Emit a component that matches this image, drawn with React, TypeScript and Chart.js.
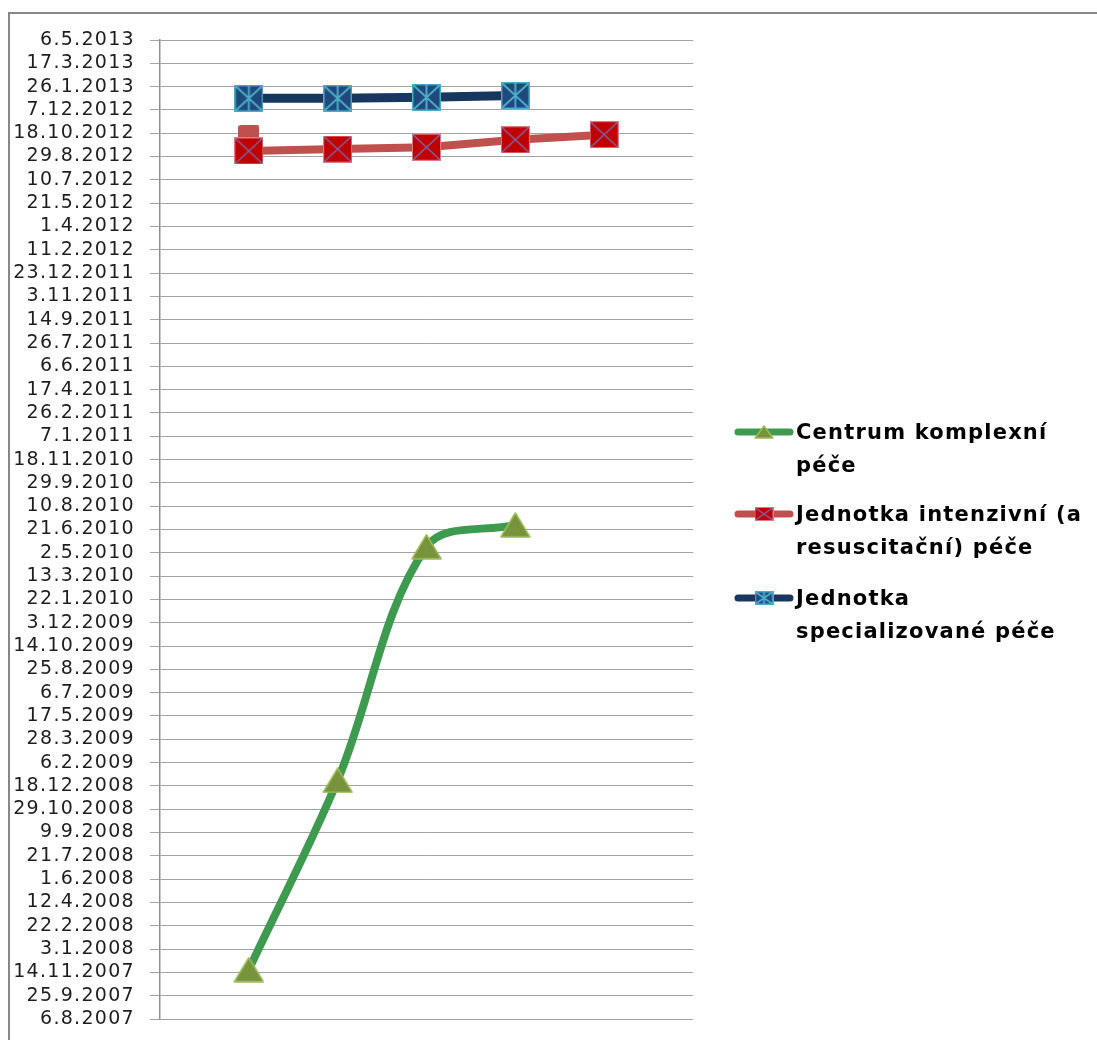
import { useEffect, useRef } from "react";
import { Chart, registerables } from "chart.js";

Chart.register(...registerables);

// Category slots along the horizontal axis (the outer two stay empty)
const categories = ["", "1", "2", "3", "4", "5", ""];

// Dates (d.m.yyyy) reached by each unit, per category
const centrumDates = [null, "20.11.2007", "30.12.2008", "15.5.2010", "1.7.2010", null, null];
const intenzivniDates = [null, "10.9.2012", "14.9.2012", "18.9.2012", "4.10.2012", "15.10.2012", null];
const specializovaneDates = [null, "1.1.2013", "1.1.2013", "3.1.2013", "7.1.2013", null, null];
const extraMarkerDates = [null, "14.10.2012", null, null, null, null, null];

// Legend text, already split into its two lines
const centrumLabel = ["Centrum komplexní", "péče"];
const intenzivniLabel = ["Jednotka intenzivní (a", "resuscitační) péče"];
const specializovaneLabel = ["Jednotka", "specializované péče"];

// Date axis range and step (days)
const yAxisFirst = "6.8.2007";
const yAxisLast = "6.5.2013";
const yAxisStepDays = 50;

const EPOCH = Date.UTC(1899, 11, 30);
const DAY = 86400000;

function toSerial(s: string | null): number | null {
  if (!s) return null;
  const [d, m, y] = s.split(".").map(Number);
  return Math.round((Date.UTC(y, m - 1, d) - EPOCH) / DAY);
}

function fromSerial(n: number): string {
  const dt = new Date(EPOCH + n * DAY);
  return `${dt.getUTCDate()}.${dt.getUTCMonth() + 1}.${dt.getUTCFullYear()}`;
}

type MarkerKind = "triangle" | "squareX" | "squareStar" | "plain";

function makeMarker(kind: MarkerKind, w: number, h: number): HTMLCanvasElement {
  const c = document.createElement("canvas");
  c.width = w;
  c.height = h;
  const g = c.getContext("2d")!;
  if (kind === "triangle") {
    g.beginPath();
    g.moveTo(w / 2, 1);
    g.lineTo(w - 1, h - 1);
    g.lineTo(1, h - 1);
    g.closePath();
    g.fillStyle = "#77933C";
    g.fill();
    g.strokeStyle = "#9BBB59";
    g.lineWidth = 1.5;
    g.lineJoin = "round";
    g.stroke();
  } else if (kind === "squareX") {
    g.fillStyle = "#C00000";
    g.fillRect(0, 0, w, h);
    g.strokeStyle = "#E07A80";
    g.lineWidth = 1;
    g.strokeRect(0.5, 0.5, w - 1, h - 1);
    g.strokeStyle = "#8064A2";
    g.lineWidth = 1.5;
    g.beginPath();
    g.moveTo(1, 1);
    g.lineTo(w - 1, h - 1);
    g.moveTo(w - 1, 1);
    g.lineTo(1, h - 1);
    g.stroke();
  } else if (kind === "squareStar") {
    g.fillStyle = "#1F497D";
    g.fillRect(0, 0, w, h);
    g.strokeStyle = "#4BACC6";
    g.lineWidth = 1.5;
    g.strokeRect(0.75, 0.75, w - 1.5, h - 1.5);
    g.lineWidth = 2;
    g.beginPath();
    g.moveTo(1, 1);
    g.lineTo(w - 1, h - 1);
    g.moveTo(w - 1, 1);
    g.lineTo(1, h - 1);
    g.moveTo(w / 2, 1);
    g.lineTo(w / 2, h - 1);
    g.stroke();
  } else {
    g.fillStyle = "#C0504D";
    g.beginPath();
    (g as any).roundRect(0, 0, w, h, 3);
    g.fill();
  }
  return c;
}

export default function App() {
  const ref = useRef<HTMLCanvasElement>(null);

  useEffect(() => {
    const canvas = ref.current;
    if (!canvas) return;

    const triBig = makeMarker("triangle", 31, 26);
    const sqXBig = makeMarker("squareX", 29, 27);
    const sqStarBig = makeMarker("squareStar", 29, 27);
    const plainBig = makeMarker("plain", 21, 21);
    const triSmall = makeMarker("triangle", 20, 14);
    const sqXSmall = makeMarker("squareX", 19, 14);
    const sqStarSmall = makeMarker("squareStar", 19, 14);

    const legendItems = [
      { label: centrumLabel, color: "#3E9A4F", marker: triSmall, y: 432 },
      { label: intenzivniLabel, color: "#C0504D", marker: sqXSmall, y: 514 },
      { label: specializovaneLabel, color: "#17375E", marker: sqStarSmall, y: 598 },
    ];

    const framePlugin = {
      id: "frameAndLegend",
      beforeDraw(chart: any) {
        const ctx = chart.ctx as CanvasRenderingContext2D;
        ctx.save();
        ctx.strokeStyle = "#878787";
        ctx.lineWidth = 2;
        ctx.strokeRect(9, 13, 1300, 1300);
        ctx.restore();
        (ctx as any).letterSpacing = "1.3px";
      },
      afterDraw(chart: any) {
        const ctx = chart.ctx as CanvasRenderingContext2D;
        (ctx as any).letterSpacing = "0px";
        ctx.save();
        legendItems.forEach((it) => {
          ctx.strokeStyle = it.color;
          ctx.lineWidth = 7;
          ctx.lineCap = "round";
          ctx.beginPath();
          ctx.moveTo(738, it.y);
          ctx.lineTo(790, it.y);
          ctx.stroke();
          ctx.drawImage(it.marker, 764 - it.marker.width / 2, it.y - it.marker.height / 2);
          ctx.fillStyle = "#000000";
          ctx.font = "bold 21px 'DejaVu Sans'";
          (ctx as any).letterSpacing = "1.2px";
          ctx.textAlign = "left";
          ctx.textBaseline = "alphabetic";
          ctx.fillText(it.label[0], 796, it.y + 7);
          ctx.fillText(it.label[1], 796, it.y + 40);
          (ctx as any).letterSpacing = "0px";
        });
        ctx.restore();
      },
    };

    const chart = new Chart(canvas, {
      type: "line",
      data: {
        labels: categories,
        datasets: [
          {
            label: centrumLabel.join(" "),
            data: centrumDates.map(toSerial),
            borderColor: "#3E9A4F",
            borderWidth: 8,
            tension: 0.35,
            pointStyle: triBig,
            pointRadius: 12,
            borderJoinStyle: "round",
            order: 1,
          },
          {
            label: intenzivniLabel.join(" "),
            data: intenzivniDates.map(toSerial),
            borderColor: "#C0504D",
            borderWidth: 8,
            tension: 0,
            pointStyle: sqXBig,
            pointRadius: 12,
            borderJoinStyle: "round",
            order: 2,
          },
          {
            label: specializovaneLabel.join(" "),
            data: specializovaneDates.map(toSerial),
            borderColor: "#17375E",
            borderWidth: 9,
            tension: 0,
            pointStyle: sqStarBig,
            pointRadius: 12,
            borderJoinStyle: "round",
            order: 3,
          },
          {
            label: "",
            data: extraMarkerDates.map(toSerial),
            showLine: false,
            pointStyle: plainBig,
            pointRadius: 10,
            order: 10,
          },
        ],
      },
      options: {
        responsive: false,
        animation: false,
        devicePixelRatio: 1,
        layout: { padding: { left: 0, top: 40, right: 404, bottom: 18 } },
        plugins: {
          legend: { display: false },
          tooltip: { enabled: false },
        },
        scales: {
          x: { display: false, offset: false },
          y: {
            type: "linear",
            min: toSerial(yAxisFirst)!,
            max: toSerial(yAxisLast)!,
            afterFit: (s: any) => {
              s.width = 160;
              s.paddingTop = 0;
              s.paddingBottom = 0;
            },
            ticks: {
              stepSize: yAxisStepDays,
              autoSkip: false,
              padding: 15,
              color: "#1e1e1e",
              font: { family: "'DejaVu Sans'", size: 19 },
              callback: (v: any) => fromSerial(Number(v)),
            },
            grid: {
              color: "#a3a3a3",
              lineWidth: 1,
              tickLength: 10,
              drawTicks: true,
            },
            border: { display: true, color: "#8f8f8f", width: 1.5 },
          },
        },
      },
      plugins: [framePlugin],
    } as any);

    return () => chart.destroy();
  }, []);

  return (
    <canvas
      ref={ref}
      width={1097}
      height={1040}
      style={{ position: "absolute", left: 0, top: 0, display: "block" }}
    />
  );
}
